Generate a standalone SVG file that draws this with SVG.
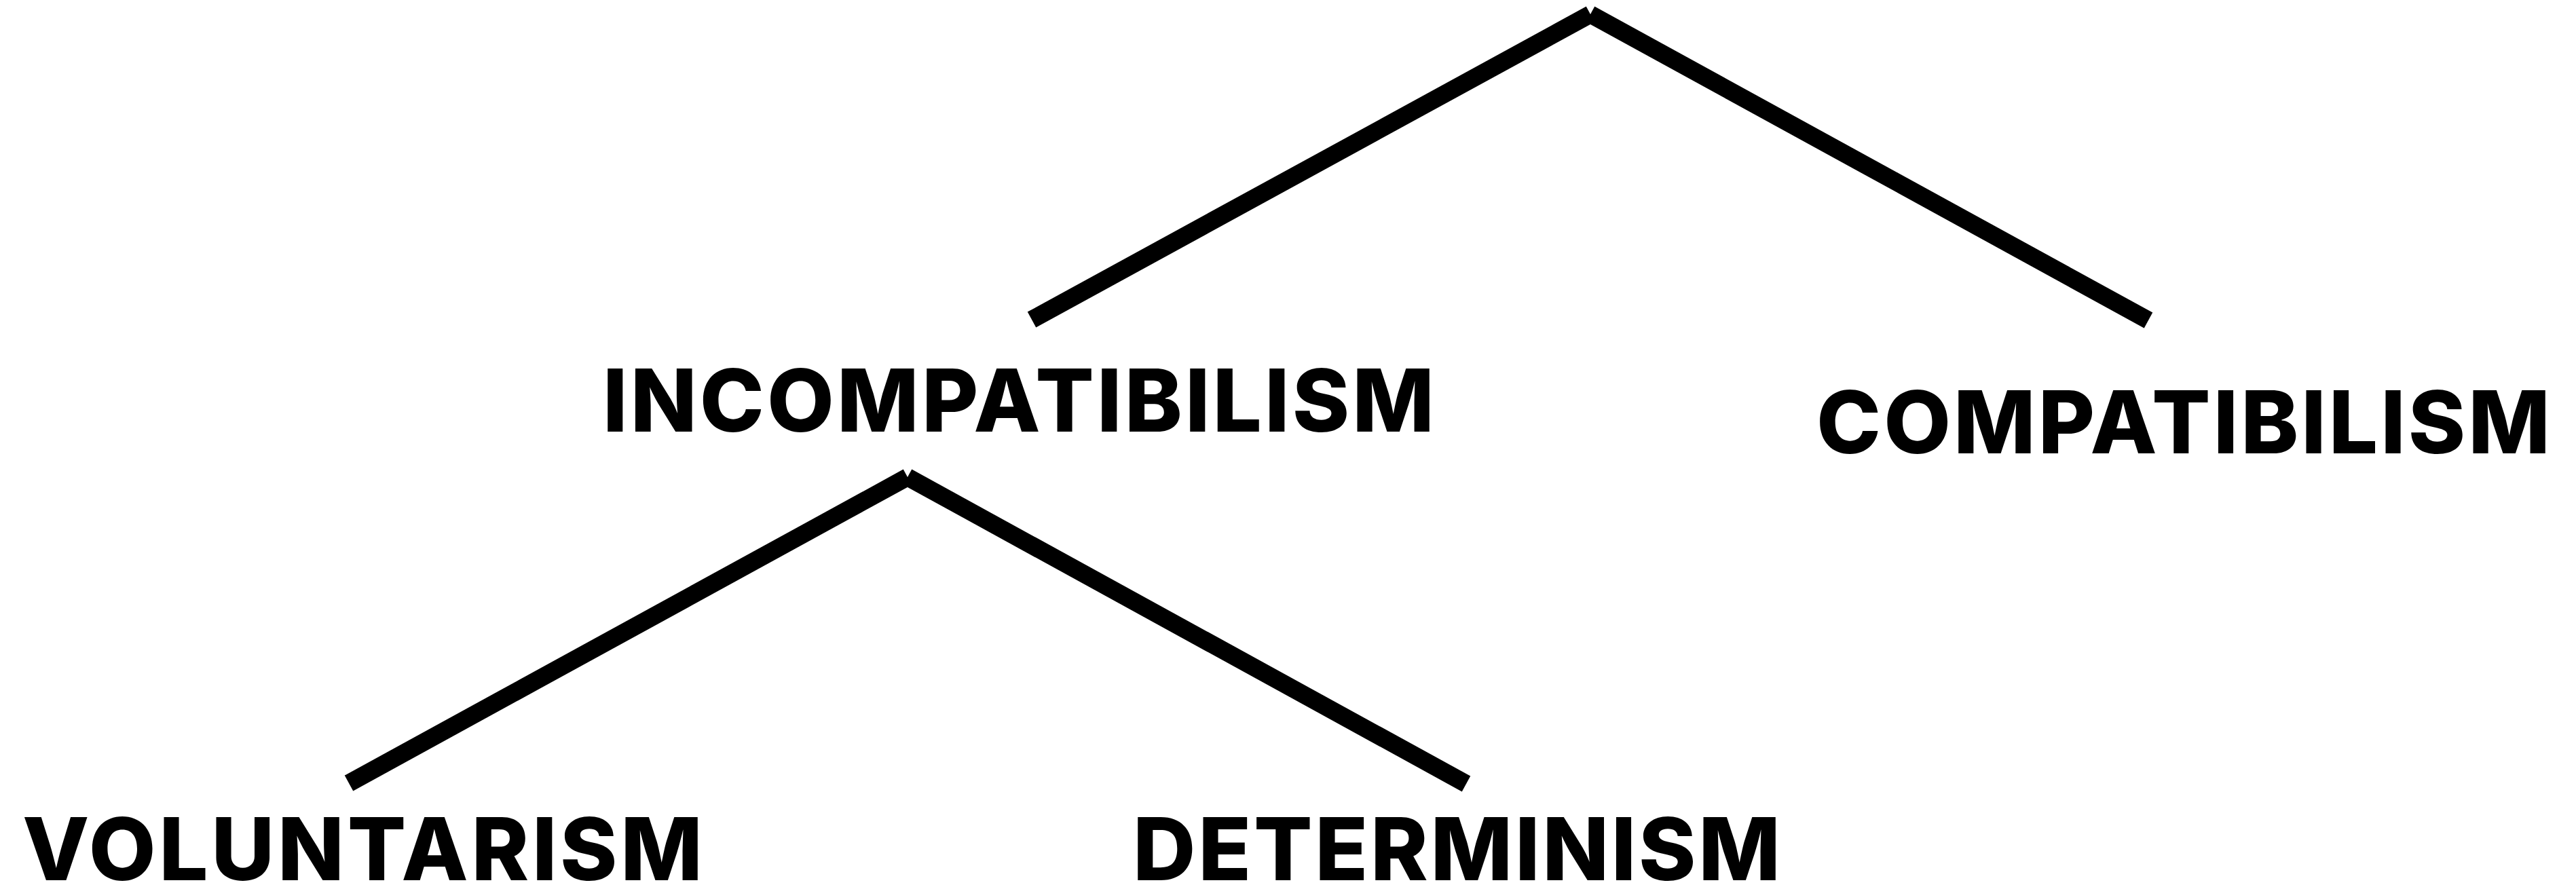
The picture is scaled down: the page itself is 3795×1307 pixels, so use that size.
<svg xmlns="http://www.w3.org/2000/svg" width="3795" height="1307" viewBox="0 0 3795 1307">
<style>
.lbl{font-family:Inter,"Liberation Sans",sans-serif;font-weight:800;font-size:128px;fill:#000}
.edge{stroke:#000;stroke-width:26;stroke-linecap:butt;fill:none}
</style>
<rect width="3795" height="1307" fill="#fff"/>
<g id="connectors">
<line class="edge" x1="1520" y1="471" x2="2343" y2="21"/>
<line class="edge" x1="2343" y1="21" x2="3165" y2="472"/>
<line class="edge" x1="514" y1="1154" x2="1337" y2="703"/>
<line class="edge" x1="1337" y1="703" x2="2160" y2="1155"/>
</g>
<g id="node-incompatibilism">
<text class="lbl" x="888" y="636" textLength="1225" lengthAdjust="spacing">INCOMPATIBILISM</text>
</g>
<g id="node-compatibilism">
<text class="lbl" x="2676" y="668" textLength="1081" lengthAdjust="spacing">COMPATIBILISM</text>
</g>
<g id="node-voluntarism">
<text class="lbl" x="33" y="1297" textLength="1002" lengthAdjust="spacing">VOLUNTARISM</text>
</g>
<g id="node-determinism">
<text class="lbl" x="1669" y="1297" textLength="954" lengthAdjust="spacing">DETERMINISM</text>
</g>
</svg>
